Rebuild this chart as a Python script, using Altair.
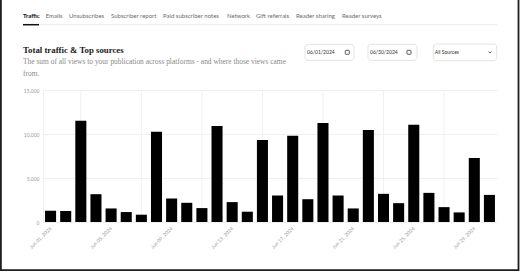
import altair as alt
import pandas as pd

# ---------------- data ----------------
dates = [
    "Jun 01, 2024", "Jun 02, 2024", "Jun 03, 2024", "Jun 04, 2024", "Jun 05, 2024",
    "Jun 06, 2024", "Jun 07, 2024", "Jun 08, 2024", "Jun 09, 2024", "Jun 10, 2024",
    "Jun 11, 2024", "Jun 12, 2024", "Jun 13, 2024", "Jun 14, 2024", "Jun 15, 2024",
    "Jun 16, 2024", "Jun 17, 2024", "Jun 18, 2024", "Jun 19, 2024", "Jun 20, 2024",
    "Jun 21, 2024", "Jun 22, 2024", "Jun 23, 2024", "Jun 24, 2024", "Jun 25, 2024",
    "Jun 26, 2024", "Jun 27, 2024", "Jun 28, 2024", "Jun 29, 2024", "Jun 30, 2024",
]
views = [
    1280, 1240, 11500, 3160, 1540, 1130, 830, 10260, 2670, 2180,
    1580, 10900, 2260, 1170, 9320, 3010, 9800, 2590, 11250, 3010,
    1540, 10450, 3200, 2140, 11050, 3310, 1690, 1090, 7270, 3080,
]
tick_dates = ["Jun 01, 2024", "Jun 05, 2024", "Jun 09, 2024", "Jun 13, 2024",
              "Jun 17, 2024", "Jun 21, 2024", "Jun 25, 2024", "Jun 29, 2024"]
grid_dates = ["Jun 03, 2024", "Jun 07, 2024", "Jun 11, 2024", "Jun 15, 2024",
              "Jun 19, 2024", "Jun 23, 2024", "Jun 27, 2024"]
y_ticks = [0, 5000, 10000, 15000]

tabs = ["Traffic", "Emails", "Unsubscribes", "Subscriber report", "Paid subscriber notes",
        "Network", "Gift referrals", "Reader sharing", "Reader surveys"]
title_text = "Total traffic & Top sources"
subtitle_lines = ["The sum of all views to your publication across platforms - and where those views came",
                  "from."]
start_date = "06/01/2024"
end_date = "06/30/2024"
source_label = "All Sources"

# ---------------- layout ----------------
W, H = 454, 132
OX, OY = 43, 90
tab_x = [23, 45.7, 69, 111, 163, 227, 256, 296, 342]


def px(x):
    return x - OX


def py(y):
    return y - OY


one = alt.Data(values=[{}])


def label(text, x, y, size, color, font, weight="normal", align="left"):
    return alt.Chart(one).mark_text(
        text=text, align=align, baseline="middle", fontSize=size,
        color=color, font=font, fontWeight=weight
    ).encode(x=alt.value(px(x)), y=alt.value(py(y)))


def box(x1, y1, x2, y2, stroke, r, sw=1.0, fill="white", fill_opacity=1.0):
    return alt.Chart(one).mark_rect(
        cornerRadius=r, stroke=stroke, strokeWidth=sw, fill=fill, fillOpacity=fill_opacity
    ).encode(x=alt.value(px(x1)), x2=alt.value(px(x2)),
             y=alt.value(py(y1)), y2=alt.value(py(y2)))


def hline(x1, x2, y, color, sw):
    return alt.Chart(one).mark_rule(color=color, strokeWidth=sw).encode(
        x=alt.value(px(x1)), x2=alt.value(px(x2)), y=alt.value(py(y)))


df = pd.DataFrame({"date": dates, "views": views})
grid_df = pd.DataFrame({"date": grid_dates})

xscale = alt.Scale(domain=dates, paddingInner=0.27, paddingOuter=0.135)
x_axis = alt.Axis(values=tick_dates, labelAngle=-45, labelAlign="right",
                  labelBaseline="middle", labelFontSize=5, labelColor="#9a9a9a",
                  labelFont="Lato", labelPadding=5, ticks=False, domain=False,
                  grid=False, title=None)

grid = alt.Chart(grid_df).mark_rule(color="#f0f0f0", strokeWidth=1).encode(
    x=alt.X("date:O", scale=xscale, axis=x_axis)
)

bars = alt.Chart(df).mark_bar(color="#000000").encode(
    x=alt.X("date:O", scale=xscale, axis=x_axis),
    y=alt.Y("views:Q", scale=alt.Scale(domain=[0, 15000], nice=False),
            axis=alt.Axis(values=y_ticks, format=",.0f", labelFontSize=5, labelColor="#9a9a9a",
                          labelFont="Lato", labelPadding=4, ticks=False, domain=True,
                          domainColor="#eeeeee", gridColor="#f0f0f0", title=None)),
)

layers = [grid, bars]

# tabs
for i, (t, x) in enumerate(zip(tabs, tab_x)):
    layers.append(label(t, x, 16, 6, "#111111" if i == 0 else "#6b6b6b", "Lato",
                        weight="bold" if i == 0 else "normal"))
layers.append(hline(23, 497, 24.7, "#ececec", 1))
layers.append(hline(23, 39, 24.7, "#111111", 1.5))

# title and subtitle
layers.append(label(title_text, 23, 50, 8.8, "#1a1a1a", "Liberation Serif", weight="bold"))
layers.append(label(subtitle_lines[0], 23, 62.3, 7.45, "#8a8a8a", "Liberation Serif"))
layers.append(label(subtitle_lines[1], 23, 74, 7.45, "#8a8a8a", "Liberation Serif"))

# inputs
layers.append(box(305, 44.3, 354, 60.3, "#e3e3e3", 3))
layers.append(label(start_date, 307, 52.3, 5, "#333333", "Lato"))
layers.append(box(345.3, 50.3, 349.3, 54.3, "#333333", 0.6, sw=0.8, fill_opacity=0))
layers.append(box(368, 44.3, 417, 60.3, "#e3e3e3", 3))
layers.append(label(end_date, 370, 52.3, 5, "#333333", "Lato"))
layers.append(box(407, 50.3, 411, 54.3, "#333333", 0.6, sw=0.8, fill_opacity=0))
layers.append(box(433.3, 44, 496.7, 60.7, "#e3e3e3", 3))
layers.append(label(source_label, 434.8, 52.3, 5, "#333333", "Lato"))
layers.append(alt.Chart(one).mark_point(
    shape="M-1,-0.5L0,0.5L1,-0.5", size=8, filled=False, strokeWidth=1, color="#222222"
).encode(x=alt.value(px(490)), y=alt.value(py(52.3))))

# frame
layers.append(box(0.9, -20, 518.5, 270.2, "#1e1e1e", 0, sw=1.8, fill_opacity=0))

chart = alt.layer(*layers).properties(
    width=W, height=H,
    padding={"left": OX, "top": OY, "right": 520 - OX - W, "bottom": 272 - OY - H},
    autosize=alt.AutoSizeParams(type="none"),
    background="white",
).configure_view(stroke=None)

chart.save("out.html", embed_options={"renderer": "svg", "actions": False})
